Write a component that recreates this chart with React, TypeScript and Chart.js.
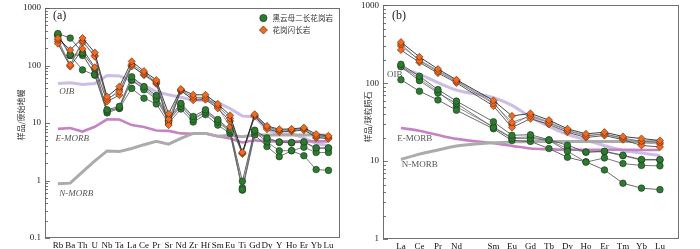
import React, { useEffect, useRef } from "react";
import { Chart, registerables } from "chart.js";
Chart.register(...registerables);

const SERIF = '"Liberation Serif", "DejaVu Serif", serif';
const CJK = '"Noto Sans CJK SC", "Noto Sans CJK TC", sans-serif';

// ---------- categories ----------
const pmElements = ["Rb","Ba","Th","U","Nb","Ta","La","Ce","Pr","Sr","Nd","Zr","Hf","Sm","Eu","Ti","Gd","Dy","Y","Ho","Er","Yb","Lu"];
const reeElements = ["La","Ce","Pr","Nd","","Sm","Eu","Gd","Tb","Dy","Ho","Er","Tm","Yb","Lu"];

// ---------- legend / titles ----------
const nameMonzo = "黑云母二长花岗岩";
const nameGrano = "花岗闪长岩";
const titlePM = "样品/原始地幔";
const titleREE = "样品/球粒陨石";

// ---------- (a) primitive-mantle normalised ----------
const pmMonzo1 = [360,300,168,88,17,19.5,64,43,30,12,22,13,17,11.5,7.6,0.97,7.5,5.5,4.7,4.6,4.7,3.7,3.7];
const pmMonzo2 = [340,155,160,70,16,18.5,57,38,26,11,19.5,11.5,15.5,10.5,7,0.7,7,4.7,3.3,3.3,3.8,3.07,3.07];
const pmMonzo3 = [350,150,84,68,15,18,40,27,21.5,10,17.5,10.4,14,9.2,6.6,0.68,6.2,3.9,2.6,3.3,2.7,1.55,1.5];
const pmMonzo4 = [330,150,150,72,16.5,18,55,40,28,11,21,12,16,11,7.2,0.75,7.3,5.2,4.6,4.5,4.6,3.6,3.6];
const pmGrano1 = [300,186,300,168,28.6,43,118,80,56,14.5,39,31,31,21.5,13.6,3.1,14.2,8.9,7.8,7.9,8.3,6.4,6.0];
const pmGrano2 = [280,103,270,143,26,35,105,75,52,11.7,38,28,28,20,12,3.0,13.5,8.5,7.5,7.6,8.0,6.0,5.7];
const pmGrano3 = [240,96,194,93,23.7,30.5,97,70,50,9.2,37,25,25.5,18,10.8,2.9,13,7.8,7.0,7.2,7.5,5.7,5.3];
const pmGrano4 = [260,100,250,150,25,38,100,68,48,10.5,36,26,27,19,8.6,3.0,13.6,8.2,7.2,7.4,7.8,5.5,5.5];
const pmOIB = [48.8,50,47,48.6,67,66,54,45,35,31,28,25,25,22.5,17.9,13.2,12.8,7.6,6.4,6.5,5.5,4.4,4.05];
const pmEMORB = [7.9,8.2,7.1,8.6,11.6,11.5,9.2,8.5,7.4,7.3,6.6,6.5,6.6,5.9,5.4,4.6,5.0,4.8,4.8,4.8,4.8,4.8,4.8];
const pmNMORB = [0.88,0.9,1.41,2.2,3.27,3.2,3.6,4.2,4.8,4.3,5.4,6.6,6.6,5.9,6.1,5.8,6.2,6.2,6.2,6.2,6.2,6.2,6.1];

// ---------- (b) chondrite normalised ----------
const reeMonzo1 = [175,123,83,59,null,32,21.5,21.8,18.8,16,13.1,13.4,11.9,10.5,10.5];
const reeMonzo2 = [163,108,75,55,null,27,19.6,19.6,18.5,13.4,9.7,11,9.3,8.8,8.7];
const reeMonzo3 = [111,79,61,45,null,26,18.4,17.9,14.5,11.2,9.8,7.7,5.2,4.5,4.3];
const reeMonzo4 = [168,115,78,50,null,27.5,20,20.5,18.6,14.5,13,13.2,11.7,10.3,10.3];
const reeGrano1 = [337,218,152,111,null,60,38,41,33.6,26,22.4,23.5,20.7,19.5,18.4];
const reeGrano2 = [318,194,141,105,null,55,31.5,38,31,24.5,21,22.5,19.8,18,17.4];
const reeGrano3 = [267,185,135,101,null,51,27,35,29.6,23.5,20.1,21.3,18.8,15.9,15.2];
const reeGrano4 = [300,200,145,108,null,57,29,39,32,25,21.5,22,19.5,17.1,16.6];
const reeOIB = [156,131,102,82,null,65,52,37,28,22,18.7,15.8,13.7,12.7,11.8];
const reeEMORB = [26.6,24.5,21.6,19.3,null,17,15.7,14.5,14.2,14,14,14,14,13.9,13.9];
const reeNMORB = [10.5,12.3,13.9,15.6,null,17.2,17.6,17.9,17.9,17.9,17.8,17.9,17.9,17.9,17.9];

// ---------- styles ----------
const GREEN = "#2f7a33";
const GREEN_EDGE = "#163a17";
const ORANGE = "#f26a21";
const ORANGE_EDGE = "#5b2a0c";
const OIB_COL = "#cdbce3";
const EMORB_COL = "#c583c4";
const NMORB_COL = "#ababab";

const toPoints = (vals: (number | null)[]) => vals.map((v, i) => ({ x: i, y: v }));

const monzoSet = (vals: (number | null)[], line: string) => ({
  data: toPoints(vals), borderColor: line, borderWidth: 0.8, tension: 0, spanGaps: true,
  pointStyle: "circle", pointRadius: 3.3, pointBackgroundColor: GREEN, pointBorderColor: GREEN_EDGE, pointBorderWidth: 0.6,
});
const granoSet = (vals: (number | null)[], line: string) => ({
  data: toPoints(vals), borderColor: line, borderWidth: 0.8, tension: 0, spanGaps: true,
  pointStyle: "rectRot", pointRadius: 3.6, pointBackgroundColor: ORANGE, pointBorderColor: ORANGE_EDGE, pointBorderWidth: 0.6,
});
const refSet = (vals: (number | null)[], color: string, width: number, smooth: boolean) => ({
  data: toPoints(vals), borderColor: color, borderWidth: width, pointRadius: 0, spanGaps: true,
  tension: smooth ? 0.4 : 0, cubicInterpolationMode: smooth ? "monotone" : "default",
});

const logTicks = (minExp: number, maxExp: number) => {
  const out: { value: number }[] = [];
  for (let e = minExp; e < maxExp; e++) {
    for (let s = 1; s <= 9; s++) out.push({ value: Number((s * Math.pow(10, e)).toFixed(6)) });
  }
  out.push({ value: Math.pow(10, maxExp) });
  return out;
};
const isDecade = (v: number) => { const l = Math.log10(v); return Math.abs(l - Math.round(l)) < 1e-9; };

const drawMarker = (ctx: CanvasRenderingContext2D, kind: string, x: number, y: number) => {
  ctx.beginPath();
  if (kind === "circle") {
    ctx.arc(x, y, 3.6, 0, Math.PI * 2);
    ctx.fillStyle = GREEN; ctx.strokeStyle = GREEN_EDGE;
  } else {
    const r = 4;
    ctx.moveTo(x, y - r); ctx.lineTo(x + r, y); ctx.lineTo(x, y + r); ctx.lineTo(x - r, y); ctx.closePath();
    ctx.fillStyle = ORANGE; ctx.strokeStyle = ORANGE_EDGE;
  }
  ctx.lineWidth = 0.7; ctx.fill(); ctx.stroke();
};

const decorPlugin = {
  id: "decor",
  afterDraw(chart: any, _args: any, opts: any) {
    const { ctx, chartArea: a, scales } = chart;
    const xs = scales.x, ys = scales.y;
    ctx.save();
    ctx.strokeStyle = "#707070"; ctx.lineWidth = 1;
    ctx.strokeRect(Math.round(a.left) + 0.5, Math.round(a.top) + 0.5, Math.round(a.width) - 1, Math.round(a.height) - 1);
    ctx.strokeStyle = "#555"; ctx.lineWidth = 0.8;
    ys.ticks.forEach((t: any) => {
      const py = Math.round(ys.getPixelForValue(t.value)) + 0.5;
      ctx.beginPath(); ctx.moveTo(a.left, py); ctx.lineTo(a.left + (isDecade(t.value) ? 5 : 3), py); ctx.stroke();
    });
    for (const t of opts.texts || []) {
      let x = 0, y = 0;
      if (t.kind === "data") { x = xs.getPixelForValue(t.x); y = ys.getPixelForValue(t.y); }
      else if (t.kind === "area") { x = (t.x >= 0 ? a.left : a.right) + t.x; y = a.top + t.y; }
      else { x = t.x; y = t.y; }
      ctx.save();
      ctx.font = t.font; ctx.fillStyle = t.color;
      ctx.textAlign = t.align || "left"; ctx.textBaseline = "middle";
      ctx.translate(x, y);
      if (t.rotate) ctx.rotate(-Math.PI / 2);
      ctx.fillText(t.text, 0, 0);
      ctx.restore();
    }
    for (const l of opts.legend || []) {
      const x = a.right + l.x, y = a.top + l.y;
      drawMarker(ctx, l.kind, x, y);
      ctx.font = `7.6px ${CJK}`; ctx.fillStyle = "#333"; ctx.textAlign = "left"; ctx.textBaseline = "middle";
      ctx.fillText(l.text, x + 9, y);
    }
    ctx.restore();
  },
};

function makeConfig(kind: "pm" | "ree"): any {
  const pm = kind === "pm";
  const cats = pm ? pmElements : reeElements;
  const datasets = pm
    ? [
        granoSet(pmGrano1, "#111"), granoSet(pmGrano2, "#666"), granoSet(pmGrano3, "#333"), granoSet(pmGrano4, "#888"),
        monzoSet(pmMonzo1, "#444"), monzoSet(pmMonzo2, "#666"), monzoSet(pmMonzo3, "#555"), monzoSet(pmMonzo4, "#888"),
        refSet(pmNMORB, NMORB_COL, 3, false), refSet(pmEMORB, EMORB_COL, 2.6, false), refSet(pmOIB, OIB_COL, 3, false),
      ]
    : [
        granoSet(reeGrano1, "#111"), granoSet(reeGrano2, "#666"), granoSet(reeGrano3, "#333"), granoSet(reeGrano4, "#888"),
        monzoSet(reeMonzo1, "#444"), monzoSet(reeMonzo2, "#555"), monzoSet(reeMonzo3, "#444"), monzoSet(reeMonzo4, "#777"),
        refSet(reeNMORB, NMORB_COL, 3, true), refSet(reeEMORB, EMORB_COL, 2.6, true), refSet(reeOIB, OIB_COL, 3, true),
      ];
  const labelFont = pm ? `italic 9px ${SERIF}` : `9px ${SERIF}`;
  const texts = pm
    ? [
        { kind: "area", x: 8, y: 8, text: "(a)", font: `12px ${SERIF}`, color: "#222" },
        { kind: "canvas", x: 21, y: 115, text: titlePM, font: `8px ${CJK}`, color: "#333", rotate: true, align: "center" },
        { kind: "data", x: 0.1, y: 35, text: "OIB", font: labelFont, color: "#555" },
        { kind: "data", x: -0.2, y: 5.3, text: "E-MORB", font: labelFont, color: "#555" },
        { kind: "data", x: 0.1, y: 0.59, text: "N-MORB", font: labelFont, color: "#555" },
      ]
    : [
        { kind: "area", x: 9, y: 10, text: "(b)", font: `12px ${SERIF}`, color: "#222" },
        { kind: "canvas", x: 23, y: 117, text: titleREE, font: `8px ${CJK}`, color: "#333", rotate: true, align: "center" },
        { kind: "data", x: -0.75, y: 130, text: "OIB", font: labelFont, color: "#555" },
        { kind: "data", x: -0.2, y: 19.5, text: "E-MORB", font: labelFont, color: "#555" },
        { kind: "data", x: 0.05, y: 8.9, text: "N-MORB", font: labelFont, color: "#555" },
      ];
  const legend = pm
    ? [
        { kind: "circle", x: -77, y: 10, text: nameMonzo },
        { kind: "diamond", x: -77, y: 22, text: nameGrano },
      ]
    : [];
  return {
    type: "line",
    data: { datasets },
    plugins: [decorPlugin],
    options: {
      responsive: false,
      animation: false,
      events: [],
      layout: { padding: pm ? { left: 0, right: 2, top: 0, bottom: 0 } : { left: 0, right: 21, top: 0, bottom: 0 } },
      plugins: {
        legend: { display: false },
        tooltip: { enabled: false },
        decor: { texts, legend },
      },
      scales: {
        x: {
          type: "linear",
          min: pm ? -1.05 : -0.97,
          max: pm ? 22.97 : 15.03,
          grid: { display: false, drawTicks: false },
          border: { display: false },
          afterBuildTicks: (s: any) => { s.ticks = cats.map((_, i) => ({ value: i })); },
          afterFit: (s: any) => { s.height = pm ? 11 : 10; },
          ticks: {
            autoSkip: false, maxRotation: 0, minRotation: 0, padding: 3,
            font: { family: SERIF, size: 9, lineHeight: 1 }, color: "#111",
            callback: (v: number) => cats[Math.round(v)] ?? "",
          },
        },
        y: {
          type: "logarithmic",
          min: pm ? 0.1 : 1,
          max: 1000,
          grid: { display: false, drawTicks: false },
          border: { display: false },
          afterBuildTicks: (s: any) => { s.ticks = pm ? logTicks(-1, 3) : logTicks(0, 3); },
          afterFit: (s: any) => { s.width = pm ? 45 : 38; },
          ticks: {
            autoSkip: false, padding: 4,
            font: { family: SERIF, size: 9, lineHeight: pm ? 0.9 : 0.3 }, color: "#222",
            callback: (v: number) => (isDecade(v) ? String(v) : ""),
          },
        },
      },
    },
  };
}

function Panel({ kind, left, width }: { kind: "pm" | "ree"; left: number; width: number }) {
  const ref = useRef<HTMLCanvasElement | null>(null);
  useEffect(() => {
    if (!ref.current) return;
    const chart = new Chart(ref.current, makeConfig(kind));
    return () => chart.destroy();
  }, [kind]);
  return (
    <div style={{ position: "absolute", left, top: 0, width, height: 249 }}>
      <canvas ref={ref} width={width} height={249} style={{ display: "block" }} />
    </div>
  );
}

export default function App() {
  return (
    <div style={{ position: "fixed", left: 0, top: 0, width: 700, height: 249, background: "#fff", overflow: "hidden" }}>
      <Panel kind="pm" left={0} width={345} />
      <Panel kind="ree" left={345} width={355} />
    </div>
  );
}
